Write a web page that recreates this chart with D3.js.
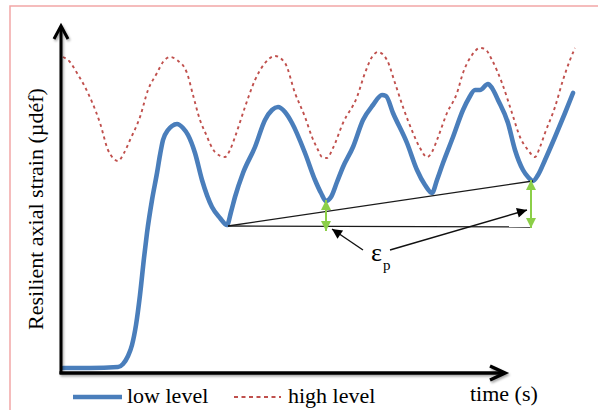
<!DOCTYPE html>
<html>
<head>
<meta charset="utf-8">
<script src="https://cdn.jsdelivr.net/npm/d3@7"></script>
<style>
  html, body { margin: 0; padding: 0; background: #fff; }
  svg { display: block; }
</style>
</head>
<body>
<svg id="chart" width="598" height="410"></svg>
<script>
// ---- Data ----
// time in s, resilient axial strain in µdéf (arbitrary units, no ticks in original)
const lowTime = [0,0.27,0.55,0.60,0.65,0.69,0.73,0.77,0.81,0.84,0.89,0.94,0.97,1.00,1.05,1.09,1.14,1.20,1.25,1.32,1.39,1.49,1.57,1.64,1.68,1.72,1.80,1.92,2.02,2.09,2.15,2.22,2.29,2.42,2.52,2.58,2.63,2.68,2.74,2.80,2.90,3.00,3.10,3.19,3.23,3.30,3.44,3.54,3.62,3.69,3.74,3.80,3.90,4.00,4.06,4.12,4.17,4.25,4.29,4.35,4.45,4.52,4.60,4.65,4.70,4.75,4.82,4.92,5.02,5.10];
const lowStrain = [0,0,2,8,24,46,86,146,220,270,336,390,426,456,476,484,488,480,466,430,376,322,300,286,312,342,390,442,496,516,522,512,490,430,376,350,334,342,372,402,442,496,526,546,544,510,450,396,366,350,376,410,462,516,540,556,556,568,560,536,490,436,396,382,374,386,416,462,510,550];

const highTime = [0,0.07,0.14,0.22,0.29,0.37,0.45,0.50,0.55,0.61,0.67,0.77,0.85,0.94,1.00,1.07,1.14,1.24,1.30,1.37,1.42,1.52,1.62,1.67,1.72,1.82,1.92,2.02,2.12,2.22,2.32,2.42,2.49,2.55,2.59,2.64,2.70,2.80,2.94,3.02,3.09,3.15,3.24,3.32,3.40,3.50,3.57,3.64,3.69,3.74,3.84,3.94,4.00,4.09,4.17,4.22,4.29,4.39,4.49,4.57,4.65,4.72,4.77,4.82,4.92,5.00,5.07,5.12];
const highStrain = [622,612,590,562,532,490,436,420,414,430,456,502,556,590,612,622,616,590,546,496,472,432,422,436,462,522,576,610,624,610,550,502,462,436,422,420,440,490,542,590,622,632,616,570,522,470,440,422,432,456,510,550,590,626,640,638,616,570,510,462,436,422,442,470,522,576,616,640];

// permanent strain construction (time, strain)
const firstTrough = [1.65, 284];
const lastTrough  = [4.70, 374];
const baseEnd     = [4.68, 282];
const epsArrows = [ // green double arrows: [time, strainLow, strainHigh]
  [2.63, 274, 336],
  [4.68, 280, 376]
];
const pointers = [ // [from t, from v, to t, to v]
  [3.00, 236, 2.69, 278],
  [3.27, 236, 4.64, 316]
];
const epsLabelPos = [3.08, 214];

const seriesNames = ["low level", "high level"];
const axisTitles = { x: "time (s)", y: "Resilient axial strain (µdéf)" };
const axisExtent = { tMin: -0.02, tMax: 4.42, vMin: -10, vMax: 684 };

const FONT = "'Liberation Serif', 'Times New Roman', Times, 'DejaVu Serif', serif";

// ---- Scales ----
const svg = d3.select("#chart");
const x = d3.scaleLinear().domain([0, 5.12]).range([63, 575]);
const y = d3.scaleLinear().domain([0, 640]).range([368, 48]);

// frame border (pink)
svg.append("rect")
  .attr("x", 10).attr("y", 6).attr("width", 620).attr("height", 430)
  .attr("fill", "none").attr("stroke", "#f2a6a6").attr("stroke-width", 1.5);

const defs = svg.append("defs");
const shadow = defs.append("filter").attr("id", "shadow")
  .attr("x", "-20%").attr("y", "-20%").attr("width", "140%").attr("height", "140%");
shadow.append("feDropShadow").attr("dx", 1.2).attr("dy", 1.8)
  .attr("stdDeviation", 1.2).attr("flood-color", "#000").attr("flood-opacity", 0.35);

function marker(id, color, w, h) {
  defs.append("marker").attr("id", id)
    .attr("viewBox", "0 0 10 10").attr("refX", 10).attr("refY", 5)
    .attr("markerUnits", "userSpaceOnUse")
    .attr("markerWidth", w).attr("markerHeight", h)
    .attr("orient", "auto-start-reverse")
    .append("path").attr("d", "M0,0 L10,5 L0,10 Z").attr("fill", color);
}
marker("greenHead", "#8ccf48", 10, 11);
marker("blackHead", "#000", 13, 10);

// ---- Series ----
const lowData = lowTime.map((t, i) => [t, lowStrain[i]]);
const highData = highTime.map((t, i) => [t, highStrain[i]]);
const line = d3.line().x(d => x(d[0])).y(d => y(d[1])).curve(d3.curveMonotoneX);

svg.append("path").datum(highData)
  .attr("d", line).attr("fill", "none")
  .attr("stroke", "#c0504d").attr("stroke-width", 1.9)
  .attr("stroke-dasharray", "3,3.5");

svg.append("path").datum(lowData)
  .attr("d", line).attr("fill", "none")
  .attr("stroke", "#4a7ebb").attr("stroke-width", 4.6)
  .attr("stroke-linejoin", "round").attr("stroke-linecap", "round");

// ---- Construction lines ----
svg.append("line")
  .attr("x1", x(firstTrough[0])).attr("y1", y(firstTrough[1]))
  .attr("x2", x(lastTrough[0])).attr("y2", y(lastTrough[1]))
  .attr("stroke", "#1a1a1a").attr("stroke-width", 1.3);
svg.append("line")
  .attr("x1", x(firstTrough[0])).attr("y1", y(firstTrough[1]))
  .attr("x2", x(baseEnd[0])).attr("y2", y(baseEnd[1]))
  .attr("stroke", "#1a1a1a").attr("stroke-width", 1.3);

svg.selectAll(".eps").data(epsArrows).enter().append("line")
  .attr("x1", d => x(d[0])).attr("y1", d => y(d[1]))
  .attr("x2", d => x(d[0])).attr("y2", d => y(d[2]))
  .attr("stroke", "#8ccf48").attr("stroke-width", 2)
  .attr("marker-start", "url(#greenHead)").attr("marker-end", "url(#greenHead)");

svg.selectAll(".ptr").data(pointers).enter().append("line")
  .attr("x1", d => x(d[0])).attr("y1", d => y(d[1]))
  .attr("x2", d => x(d[2])).attr("y2", d => y(d[3]))
  .attr("stroke", "#111").attr("stroke-width", 1.4)
  .attr("marker-end", "url(#blackHead)");

const lbl = svg.append("text")
  .attr("x", x(epsLabelPos[0])).attr("y", y(epsLabelPos[1]))
  .attr("font-family", FONT).attr("font-size", 26);
lbl.append("tspan").text("ε");
lbl.append("tspan").attr("font-size", 15).attr("dx", 1).attr("dy", 9).text("p");

// ---- Axes (arrows, no ticks) ----
const axes = svg.append("g").attr("filter", "url(#shadow)");
const x0 = x(axisExtent.tMin), yB = y(axisExtent.vMin);
const xTip = x(axisExtent.tMax), yTip = y(axisExtent.vMax);
axes.append("line").attr("x1", x0).attr("y1", yB + 1).attr("x2", x0).attr("y2", yTip + 2)
  .attr("stroke", "#000").attr("stroke-width", 3);
axes.append("path").attr("d", `M${x0 - 7},${yTip + 13} L${x0},${yTip} L${x0 + 7},${yTip + 13}`)
  .attr("fill", "none").attr("stroke", "#000").attr("stroke-width", 3).attr("stroke-linejoin", "miter");
axes.append("line").attr("x1", x0 - 1.5).attr("y1", yB).attr("x2", xTip - 2).attr("y2", yB)
  .attr("stroke", "#000").attr("stroke-width", 3.5);
axes.append("path").attr("d", `M${xTip - 15},${yB - 7} L${xTip},${yB} L${xTip - 15},${yB + 7}`)
  .attr("fill", "none").attr("stroke", "#000").attr("stroke-width", 3.5).attr("stroke-linejoin", "miter");

svg.append("text").attr("x", 470).attr("y", 401)
  .attr("font-family", FONT).attr("font-size", 22).text(axisTitles.x);
svg.append("text")
  .attr("transform", "translate(43,209) rotate(-90)")
  .attr("font-family", FONT)
  .attr("text-anchor", "middle").attr("font-size", 22).text(axisTitles.y);

// ---- Legend ----
const leg = svg.append("g");
leg.append("line").attr("x1", 73).attr("x2", 122).attr("y1", 397).attr("y2", 397)
  .attr("stroke", "#4a7ebb").attr("stroke-width", 4.6);
leg.append("text").attr("x", 127).attr("y", 403)
  .attr("font-family", FONT).attr("font-size", 22).text(seriesNames[0]);
leg.append("line").attr("x1", 234).attr("x2", 281).attr("y1", 397).attr("y2", 397)
  .attr("stroke", "#c0504d").attr("stroke-width", 1.8).attr("stroke-dasharray", "4,3.5");
leg.append("text").attr("x", 288).attr("y", 403)
  .attr("font-family", FONT).attr("font-size", 22).text(seriesNames[1]);
</script>
</body>
</html>
